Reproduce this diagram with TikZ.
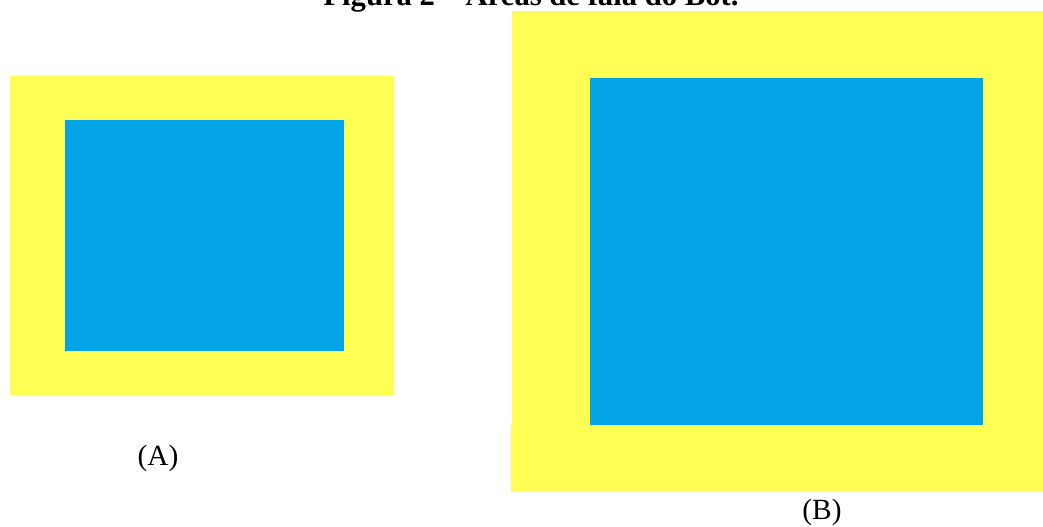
\documentclass[tikz,border=0pt]{standalone}
\usepackage{fontspec}
\setmainfont{Liberation Serif}
\definecolor{ylw}{HTML}{FFFF55}
\definecolor{blu}{HTML}{02A4E6}
\begin{document}
\begin{tikzpicture}[x=0.75pt,y=-0.75pt,
  lbl/.style={inner sep=0pt,font=\fontsize{22}{26}\selectfont},
  ttl/.style={inner sep=0pt,anchor=base,font=\fontsize{23}{27}\selectfont\bfseries}]
\useasboundingbox (0,0) rectangle (1043,527);
% A
\fill[ylw] (10,76) rectangle (394,395);
\fill[blu] (65,120) rectangle (344,351);
% B
\fill[ylw] (512.3,11.3) rectangle (1043,424.7);
\fill[ylw] (511,424) rectangle (1043,491.7);
\fill[blu] (590,78) rectangle (982.7,424.7);
% labels
\node[lbl] (la) at (158,458) {(A)};
\node[lbl] (lb) at (822,512) {(B)};
\node[ttl] (title) at (531,5.5) {Figura 2 – Áreas de fala do Bot.};
\end{tikzpicture}
\end{document}
